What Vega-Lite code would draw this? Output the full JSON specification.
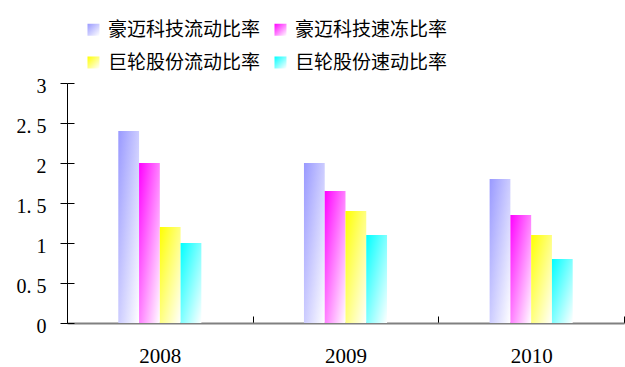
{
  "$schema": "https://vega.github.io/schema/vega-lite/v6.json",
  "width": 557,
  "height": 240,
  "autosize": {"type": "none"},
  "padding": {"left": 67, "top": 83, "right": 1, "bottom": 44},
  "background": "white",
  "config": {"view": {"stroke": null}},
  "data": {
    "values": [
      {"year": "2008", "series": "豪迈科技流动比率", "value": 2.4},
      {"year": "2008", "series": "豪迈科技速冻比率", "value": 2.0},
      {"year": "2008", "series": "巨轮股份流动比率", "value": 1.2},
      {"year": "2008", "series": "巨轮股份速动比率", "value": 1.0},
      {"year": "2009", "series": "豪迈科技流动比率", "value": 2.0},
      {"year": "2009", "series": "豪迈科技速冻比率", "value": 1.65},
      {"year": "2009", "series": "巨轮股份流动比率", "value": 1.4},
      {"year": "2009", "series": "巨轮股份速动比率", "value": 1.1},
      {"year": "2010", "series": "豪迈科技流动比率", "value": 1.8},
      {"year": "2010", "series": "豪迈科技速冻比率", "value": 1.35},
      {"year": "2010", "series": "巨轮股份流动比率", "value": 1.1},
      {"year": "2010", "series": "巨轮股份速动比率", "value": 0.8}
    ]
  },
  "resolve": {"axis": {"y": "independent"}},
  "encoding": {
    "x": {
      "field": "year", "type": "nominal",
      "scale": {"paddingInner": 0, "paddingOuter": 0},
      "axis": {
        "title": null, "labelAngle": 0,
        "labelFont": "Liberation Serif", "labelFontSize": 21, "labelColor": "black",
        "labelBaseline": "alphabetic", "labelPadding": 46,
        "domainColor": "#808080", "domainWidth": 2,
        "tickColor": "black", "tickSize": -7, "tickBand": "extent"
      }
    },
    "xOffset": {
      "field": "series", "type": "nominal",
      "scale": {
        "domain": ["_a", "_b", "豪迈科技流动比率", "豪迈科技速冻比率", "巨轮股份流动比率", "巨轮股份速动比率", "_c", "_d"],
        "paddingInner": 0, "paddingOuter": 0.47
      }
    }
  },
  "layer": [
    {
      "mark": {"type": "bar"},
      "encoding": {
        "y": {
          "field": "value", "type": "quantitative",
          "scale": {"domain": [0, 3], "nice": false},
          "axis": {
            "title": null, "orient": "left", "values": [0, 0.5, 1, 1.5, 2, 2.5, 3],
            "labelExpr": "replace(toString(datum.value), '.', '. ')",
            "labelFont": "Liberation Serif", "labelFontSize": 20, "labelColor": "black",
            "labelPadding": 14, "labelOffset": 3,
            "grid": false, "domainColor": "black", "tickColor": "black", "tickSize": 7
          }
        },
        "color": {
          "field": "series", "type": "nominal",
          "scale": {
            "domain": ["豪迈科技流动比率", "豪迈科技速冻比率", "巨轮股份流动比率", "巨轮股份速动比率"],
            "range": [
              {"expr": "{gradient: 'linear', x1: 0, y1: 0, x2: 1, y2: 1, stops: [{offset: 0, color: '#9999ff'}, {offset: 1, color: '#ffffff'}]}"},
              {"expr": "{gradient: 'linear', x1: 0, y1: 0, x2: 1, y2: 1, stops: [{offset: 0, color: '#ff00ff'}, {offset: 1, color: '#ffffff'}]}"},
              {"expr": "{gradient: 'linear', x1: 0, y1: 0, x2: 1, y2: 1, stops: [{offset: 0, color: '#ffff00'}, {offset: 1, color: '#ffffff'}]}"},
              {"expr": "{gradient: 'linear', x1: 0, y1: 0, x2: 1, y2: 1, stops: [{offset: 0, color: '#00ffff'}, {offset: 1, color: '#ffffff'}]}"}
            ]
          },
          "legend": {
            "title": null, "orient": "none", "legendX": 17, "legendY": -63,
            "direction": "horizontal",
            "columns": 2, "columnPadding": 10, "rowPadding": 13,
            "symbolType": "square", "symbolSize": 144, "symbolStrokeWidth": 0,
            "labelFont": "Noto Sans CJK SC", "labelFontSize": 19, "labelColor": "black",
            "labelOffset": 5, "labelLimit": 0
          }
        }
      }
    },
    {
      "mark": {"type": "bar", "opacity": 0},
      "encoding": {
        "y": {
          "field": "value", "type": "quantitative",
          "axis": {
            "orient": "left", "title": null, "labels": false, "domain": false, "grid": false,
            "values": [0, 0.5, 1, 1.5, 2, 2.5, 3], "tickColor": "black", "tickSize": 7, "offset": -7
          }
        }
      }
    }
  ]
}
